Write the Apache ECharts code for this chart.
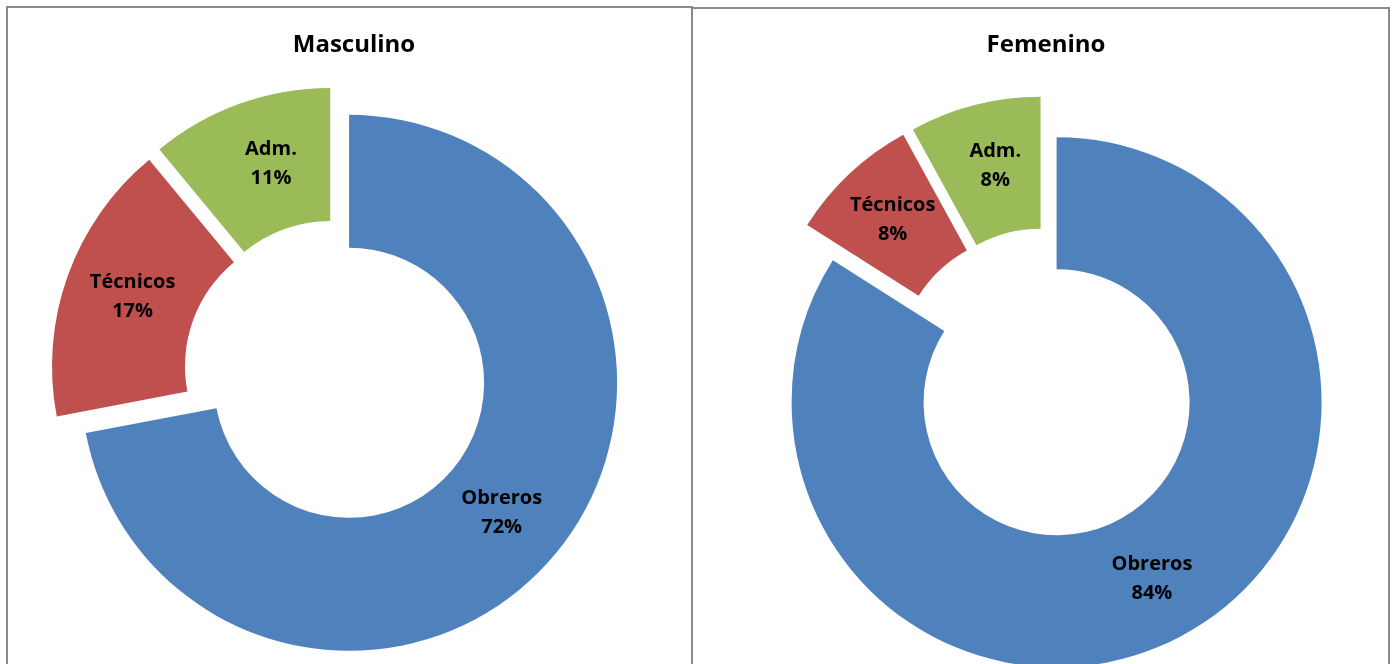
<!DOCTYPE html>
<html>
<head>
<meta charset="utf-8">
<script src="https://cdn.jsdelivr.net/npm/echarts@6/dist/echarts.min.js"></script>
<style>
  html, body { margin: 0; padding: 0; background: #fff; }
  #chart { width: 1392px; height: 664px; }
</style>
</head>
<body>
<div id="chart"></div>
<script>
// datos
const categorias = ['Obreros', 'Técnicos', 'Adm.']
const masculino = [72, 17, 11]
const femenino = [84, 8, 8]
const colores = ['#4F81BD', '#C0504D', '#9BBB59']

const fuente = '"Open Sans", Lato, sans-serif'

// ajuste fino de etiquetas [dx, dy] (como las pone Excel), via padding
function relleno(d) {
    const dx = d[0], dy = d[1]
    return [Math.max(0, 2 * dy), Math.max(0, -2 * dx), Math.max(0, -2 * dy), Math.max(0, 2 * dx)]
}

function serie(valores, centro, radio, offset, ajustes) {
    return {
        type: 'pie',
        center: centro,
        radius: radio,
        startAngle: 90,
        clockwise: true,
        selectedMode: 'multiple',
        selectedOffset: offset,
        avoidLabelOverlap: false,
        animation: false,
        emphasis: { disabled: true },
        label: {
            show: true,
            position: 'inside',
            formatter: p => p.name + '\n' + p.value + '%',
            color: '#000',
            fontFamily: fuente,
            fontWeight: 'bold',
            fontSize: 20,
            lineHeight: 29
        },
        labelLine: { show: false },
        data: categorias.map((c, i) => ({
            name: c,
            value: valores[i],
            selected: true,
            itemStyle: { color: colores[i] },
            label: { padding: relleno(ajustes[i]) }
        }))
    }
}

const chart = echarts.init(document.getElementById('chart'))
chart.setOption({
    backgroundColor: '#fff',
    title: [
        { text: 'Masculino', left: 349, top: 28, textAlign: 'center',
          textStyle: { fontFamily: fuente, fontWeight: 'bold', fontSize: 24, color: '#000' } },
        { text: 'Femenino', left: 1041, top: 28, textAlign: 'center',
          textStyle: { fontFamily: fuente, fontWeight: 'bold', fontSize: 24, color: '#000' } }
    ],
    graphic: [
        { type: 'rect', shape: { x: 7, y: 7, width: 685, height: 680 },
          style: { fill: 'none', stroke: '#8a8a8a', lineWidth: 2 }, silent: true },
        { type: 'rect', shape: { x: 692, y: 8, width: 697, height: 680 },
          style: { fill: 'none', stroke: '#8a8a8a', lineWidth: 2 }, silent: true }
    ],
    series: [
        serie(masculino, [336, 372], [135, 268], 17, [[-5, 1], [5, 0], [10, 7]]),
        serie(femenino, [1046, 383], [133, 265], 22, [[-2, -3], [0, 6], [5, 6]])
    ]
})
</script>
</body>
</html>
